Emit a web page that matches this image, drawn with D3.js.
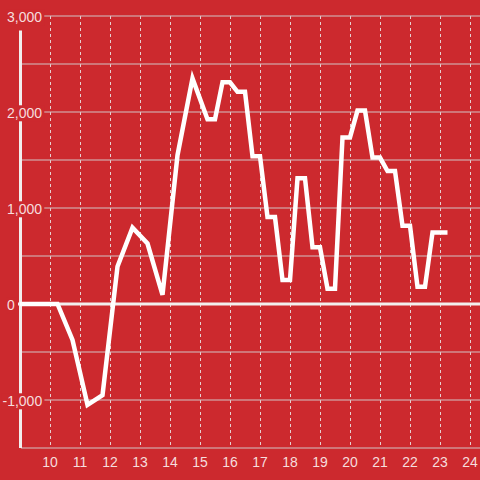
<!DOCTYPE html>
<html><head><meta charset="utf-8">
<script src="https://cdn.jsdelivr.net/npm/d3@7"></script>
<style>html,body{margin:0;padding:0;background:#cc292e;}svg{display:block;}</style>
</head><body>
<script>
const hours = [9, 10.25, 10.75, 11.25, 11.75, 12.25, 12.75, 13.25, 13.75, 14.25, 14.75, 15.25, 15.5, 15.75, 16.0, 16.25, 16.5, 16.75, 17.0, 17.25, 17.5, 17.75, 18.0, 18.25, 18.5, 18.75, 19.0, 19.25, 19.5, 19.75, 20.0, 20.25, 20.5, 20.75, 21.0, 21.25, 21.5, 21.75, 22.0, 22.25, 22.5, 22.75, 23.25];
const values = [0, 0, -375, -1050, -950, 390, 795, 630, 95, 1550, 2350, 1925, 1925, 2310, 2310, 2210, 2210, 1540, 1540, 905, 905, 250, 250, 1310, 1310, 590, 590, 160, 160, 1735, 1735, 2015, 2015, 1525, 1525, 1385, 1385, 815, 815, 180, 180, 745, 745];
const xTicks = [10, 11, 12, 13, 14, 15, 16, 17, 18, 19, 20, 21, 22, 23, 24];
const yTicks = [-1000, 0, 1000, 2000, 3000];
const yGrid = [-1500, -1000, -500, 0, 500, 1000, 1500, 2000, 2500, 3000];

const W = 480, H = 480;
const svg = d3.select("body").append("svg").attr("width", W).attr("height", H);
svg.append("rect").attr("width", W).attr("height", H).attr("fill", "#cc292e");

const x = d3.scaleLinear().domain([10, 24]).range([50, 470]);
const y = d3.scaleLinear().domain([-1500, 3000]).range([448, 16]);

// vertical dashed grid
svg.append("g").selectAll("line").data(xTicks).join("line")
  .attr("x1", d => x(d) + 0.5).attr("x2", d => x(d) + 0.5)
  .attr("y1", y(3000)).attr("y2", y(-1500))
  .attr("stroke", "#e6d0d0").attr("stroke-width", 1).attr("stroke-dasharray", "3,3");

// horizontal grid
svg.append("g").selectAll("line").data(yGrid.filter(d => d !== 0)).join("line")
  .attr("x1", 21).attr("x2", W)
  .attr("y1", d => y(d)).attr("y2", d => y(d))
  .attr("stroke", "#d2c4c4").attr("stroke-width", 1.2);

// y axis line
svg.append("line").attr("x1", 20.5).attr("x2", 20.5).attr("y1", y(2850)).attr("y2", y(-1500))
  .attr("stroke", "#f2eeee").attr("stroke-width", 3);

// zero line
svg.append("line").attr("x1", 18).attr("x2", W).attr("y1", y(0)).attr("y2", y(0))
  .attr("stroke", "#f2eeee").attr("stroke-width", 3);

// y labels with background
const fmt = d => d3.format(",")(d).replace("\u2212", "-");
const yl = svg.append("g").selectAll("g").data(yTicks).join("g");
yl.each(function(d) {
  const g = d3.select(this);
  const t = g.append("text")
    .attr("x", d < 0 ? 2.5 : 7).attr("y", y(d) + 6.3)
    .attr("font-family", "Liberation Sans, Arial, sans-serif").attr("font-size", 14)
    .attr("fill", "#fff").attr("fill-opacity", 0.85)
    .text(fmt(d));
  const b = t.node().getBBox();
  g.insert("rect", "text").attr("x", b.x - 1).attr("y", b.y).attr("width", b.width + 3).attr("height", b.height)
    .attr("fill", "#cc292e");
});

// x labels
svg.append("g").selectAll("text").data(xTicks).join("text")
  .attr("x", d => x(d)).attr("y", 466.5)
  .attr("text-anchor", "middle")
  .attr("font-family", "Liberation Sans, Arial, sans-serif").attr("font-size", 14)
  .attr("fill", "#fff").attr("fill-opacity", 0.85)
  .text(d => d);

// data line
const line = d3.line().x((d, i) => x(hours[i])).y(d => y(d));
svg.append("path").datum(values).attr("d", line)
  .attr("fill", "none").attr("stroke", "#fff").attr("stroke-width", 4.5)
  .attr("stroke-linejoin", "miter");
</script>
</body></html>
